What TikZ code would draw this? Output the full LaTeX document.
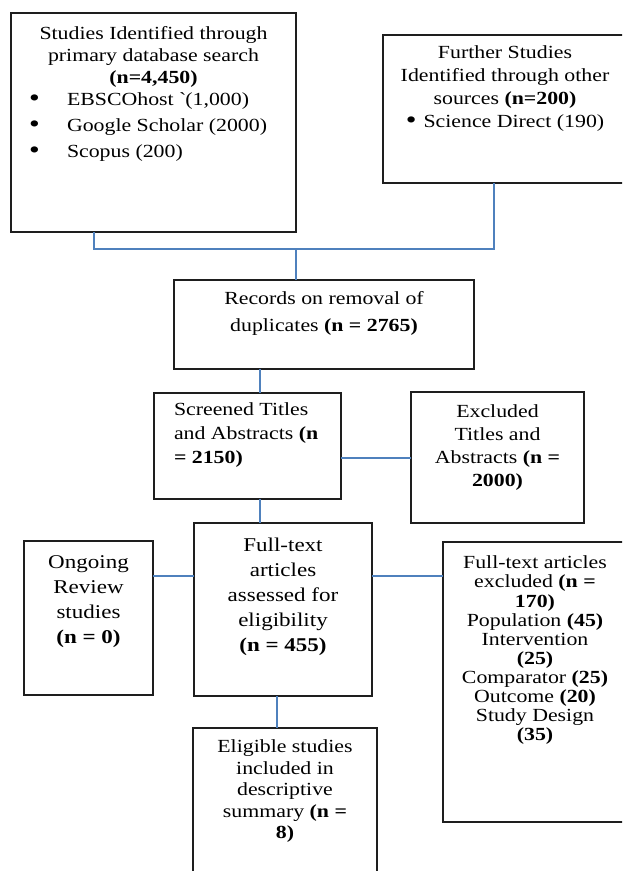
\documentclass[tikz,border=0pt]{standalone}
\usepackage{fontspec}
\setmainfont{Liberation Serif}[FakeStretch=1.18]
\usetikzlibrary{calc}
\definecolor{conn}{RGB}{79,129,189}
\definecolor{edgec}{RGB}{30,30,30}
\tikzset{
  boxst/.style={draw=edgec, line width=1.3pt, rectangle, inner sep=0pt, outer sep=0pt, anchor=north west},
  link/.style={draw=conn, line width=1.4pt},
  txt/.style={inner sep=0pt, outer sep=0pt, align=center, anchor=north, text=black},
  fs/.style={font=\fontsize{18.5pt}{#1pt}\selectfont},
  fb/.style={font=\fontsize{19.5pt}{#1pt}\selectfont},
}
\newcommand\mybul{\raisebox{-0.5pt}{\scalebox{1.4}{•}}}
\begin{document}
\begin{tikzpicture}[x=1pt,y=-1pt]
\useasboundingbox (0,0) rectangle (622,871);
\clip (0,0) rectangle (622,871);
\fill[white] (0,0) rectangle (622,871);

% boxes
\node[boxst, minimum width=285pt, minimum height=219pt] (b1) at (11,13) {};
\node[boxst, minimum width=244pt, minimum height=148pt] (b2) at (383,35) {};
\node[boxst, minimum width=300pt, minimum height=89pt] (b3) at (174,280) {};
\node[boxst, minimum width=187pt, minimum height=106pt] (b4) at (154,393) {};
\node[boxst, minimum width=173pt, minimum height=131pt] (b5) at (411,392) {};
\node[boxst, minimum width=178pt, minimum height=173pt] (b6) at (194,523) {};
\node[boxst, minimum width=129pt, minimum height=154pt] (b7) at (24,541) {};
\node[boxst, minimum width=184pt, minimum height=280pt] (b8) at (443,542) {};
\node[boxst, minimum width=184pt, minimum height=170pt] (b9) at (193,728) {};

% texts
\node[txt, fs=22] (t1) at (153.5,26) {Studies Identified through\\primary database search\\\textbf{(n=4,450)}};
\node[txt, fs=26, anchor=north west, align=left] (t1b) at (29,93) {\makebox[38pt][l]{\mybul}EBSCOhost \textasciigrave(1,000)\\\makebox[38pt][l]{\mybul}Google Scholar (2000)\\\makebox[38pt][l]{\mybul}Scopus (200)};
\node[txt, fs=23] (t2) at (505,46) {Further Studies\\Identified through other\\sources \textbf{(n=200)}\\\mybul\hspace{7pt}Science Direct (190)};
\node[txt, fs=27] (t3) at (324,291) {Records on removal of\\duplicates \textbf{(n = 2765)}};
\node[txt, fs=24, anchor=north west, align=left] (t4) at (174,403) {Screened Titles\\and Abstracts \textbf{(n}\\\textbf{= 2150)}};
\node[txt, fs=23] (t5) at (497.5,405) {Excluded\\Titles and\\Abstracts \textbf{(n =}\\\textbf{2000)}};
\node[txt, fb=25] (t6) at (283,538) {Full-text\\articles\\assessed for\\eligibility\\\textbf{(n = 455)}};
\node[txt, fb=25] (t7) at (88.5,556) {Ongoing\\Review\\studies\\\textbf{(n = 0)}};
\node[txt, fs=19.1] (t8) at (535,556) {Full-text articles\\excluded \textbf{(n =}\\\textbf{170)}\\Population \textbf{(45)}\\Intervention\\\textbf{(25)}\\Comparator \textbf{(25)}\\Outcome \textbf{(20)}\\Study Design\\\textbf{(35)}};
\node[txt, fs=21.5] (t9) at (285,740) {Eligible studies\\included in\\descriptive\\summary \textbf{(n =}\\\textbf{8)}};

% connectors
\coordinate (j1) at (94,249);
\coordinate (j2) at (494,249);
\coordinate (j3) at (296,249);
\draw[link] (b1.south -| j1) -- (j1) -- (j2) -- (b2.south -| j2);
\draw[link] (j3) -- (j3 |- b3.north);
\coordinate (c1) at (260,0);
\draw[link] (b3.south -| c1) -- (b4.north -| c1);
\coordinate (c2) at (0,458);
\draw[link] (b4.east |- c2) -- (b5.west |- c2);
\draw[link] (b4.south -| c1) -- (b6.north -| c1);
\coordinate (c3) at (0,576);
\draw[link] (b7.east |- c3) -- (b6.west |- c3);
\draw[link] (b6.east |- c3) -- (b8.west |- c3);
\coordinate (c4) at (277,0);
\draw[link] (b6.south -| c4) -- (b9.north -| c4);
\end{tikzpicture}
\end{document}
